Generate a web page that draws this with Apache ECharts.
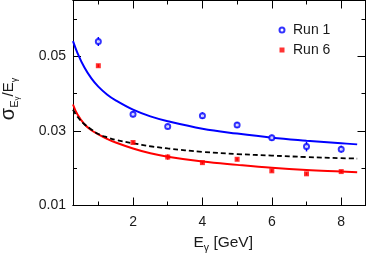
<!DOCTYPE html>
<html><head><meta charset="utf-8">
<script src="https://cdn.jsdelivr.net/npm/echarts@6/dist/echarts.min.js"></script>
<style>html,body{margin:0;padding:0;background:#fff}#c{width:367px;height:256px}</style>
</head><body><div id="c"></div>
<script>
// ---- data ----
const energies = [1, 2, 3, 4, 5, 6, 7, 8];
const run1 = [0.0540, 0.0345, 0.0312, 0.0341, 0.0316, 0.0282, 0.0258, 0.0251];
const run1Err = [0.0012, 0.0008, 0.0007, 0.0009, 0.0008, 0.0008, 0.0013, 0.0009];
const run6 = [0.0475, 0.0269, 0.0230, 0.0215, 0.0224, 0.0193, 0.0185, 0.0191];
const run6Err = [0.0004, 0.0004, 0.0007, 0.0004, 0.0004, 0.0004, 0.0004, 0.0004];

const fitE      = [0.27, 0.4, 0.6, 0.8, 1, 1.25, 1.5, 2, 2.5, 3, 4, 5, 6, 7, 8, 8.46];
const fitRun1   = [0.0541, 0.0509, 0.0470, 0.0441, 0.0419, 0.0398, 0.0382, 0.0357, 0.0339, 0.0326, 0.0306, 0.0293, 0.0282, 0.0274, 0.0267, 0.0264];
const fitRun6   = [0.0371, 0.0344, 0.0318, 0.0302, 0.0291, 0.0279, 0.0269, 0.0253, 0.0240, 0.0231, 0.0218, 0.0209, 0.0201, 0.0195, 0.0191, 0.0189];
const fitDashed = [0.0357, 0.0338, 0.0318, 0.0304, 0.0292, 0.0283, 0.0276, 0.0267, 0.0259, 0.0253, 0.0244, 0.0238, 0.0234, 0.0230, 0.0227, 0.0226];

const xLabels = ['2', '4', '6', '8'];
const yLabels = ['0.01', '0.03', '0.05'];
const seriesNames = ['Run 1', 'Run 6'];

// ---- chart ----
const FONT = '"Liberation Sans", Arial, Helvetica, sans-serif';
const TXT = '#1a1a1a';
const XMIN = 0.27, XMAX = 8.7, YMIN = 0.01, YMAX = 0.065;
const zip = (a, b) => a.map((v, i) => [v, b[i]]);

function xAxisDef(pos, splitNumber, len, showLabel, withName) {
  const ax = {
    type: 'value', position: pos, min: XMIN, max: XMAX, splitNumber: splitNumber,
    axisLine: { show: true, onZero: false, lineStyle: { color: '#000', width: 1 } },
    axisTick: { show: true, inside: true, length: len, lineStyle: { color: '#000', width: 1 } },
    splitLine: { show: false },
    axisLabel: {
      show: showLabel, margin: 10, fontSize: 14, color: TXT, fontFamily: FONT,
      formatter: v => { const s = String(Math.round(v)); return (Math.abs(v - Math.round(v)) < 1e-6 && xLabels.includes(s)) ? s : ''; }
    }
  };
  if (withName) {
    ax.name = '{e|E}{g|γ}{t| [GeV]}';
    ax.nameLocation = 'middle';
    ax.nameGap = 28;
    ax.nameTextStyle = {
      fontFamily: FONT, color: TXT, padding: [0, 0, 0, 8],
      rich: {
        e: { fontSize: 15.5, fontFamily: FONT, color: TXT, verticalAlign: 'bottom', padding: [0, 0, 3, 0] },
        g: { fontSize: 10.5, fontFamily: FONT, color: TXT, verticalAlign: 'bottom' },
        t: { fontSize: 15.5, fontFamily: FONT, color: TXT, verticalAlign: 'bottom', padding: [0, 0, 3, 0] }
      }
    };
  }
  return ax;
}
function yAxisDef(pos, interval, len, showLabel, withName) {
  const ax = {
    type: 'value', position: pos, min: YMIN, max: YMAX, interval: interval,
    axisLine: { show: true, onZero: false, lineStyle: { color: '#000', width: 1 } },
    axisTick: { show: true, inside: true, length: len, lineStyle: { color: '#000', width: 1 } },
    splitLine: { show: false },
    axisLabel: {
      show: showLabel, margin: 7, fontSize: 14, color: TXT, fontFamily: FONT,
      formatter: v => { const s = v.toFixed(2); return (Math.abs(v - parseFloat(s)) < 1e-6 && yLabels.includes(s)) ? s : ''; }
    }
  };
  if (withName) {
    ax.name = '{s|σ}{e|E}{g|γ}{n|/E}{g2|γ}';
    ax.nameLocation = 'middle';
    ax.nameGap = 52;
    ax.nameRotate = 90;
    ax.nameTextStyle = {
      fontFamily: FONT, color: TXT, padding: [0, 0, 0, 8],
      rich: {
        s: { fontSize: 20, fontFamily: FONT, color: TXT, verticalAlign: 'bottom', padding: [0, 0, 3, 0] },
        e: { fontSize: 11, fontFamily: FONT, color: TXT, verticalAlign: 'bottom', padding: [0, 0, 1, 0] },
        g: { fontSize: 8, fontFamily: FONT, color: TXT, verticalAlign: 'bottom' },
        n: { fontSize: 15, fontFamily: FONT, color: TXT, verticalAlign: 'bottom', padding: [0, 0, 5, 0] },
        g2: { fontSize: 9, fontFamily: FONT, color: TXT, verticalAlign: 'bottom', padding: [0, 0, 2, 0] }
      }
    };
  }
  return ax;
}

function errorBars(name, color, ys, errs) {
  return {
    type: 'custom', name: name + ' err', xAxisIndex: 0, yAxisIndex: 0, silent: true, z: 3,
    data: energies.map((e, i) => [e, ys[i] - errs[i], ys[i] + errs[i]]),
    renderItem: (params, api) => {
      const lo = api.coord([api.value(0), api.value(1)]);
      const hi = api.coord([api.value(0), api.value(2)]);
      return { type: 'line', shape: { x1: lo[0], y1: lo[1], x2: hi[0], y2: hi[1] }, style: { stroke: color, lineWidth: 1.5 } };
    }
  };
}

const chart = echarts.init(document.getElementById('c'), null, { renderer: 'canvas' });
chart.setOption({
  animation: false,
  backgroundColor: '#fff',
  grid: { left: 73, right: 1.5, top: 0.5, bottom: 50.5, containLabel: false, outerBoundsMode: 'none' },
  xAxis: [
    xAxisDef('bottom', 5, 8, true, true),
    xAxisDef('bottom', 8, 4, false, false),
    xAxisDef('top', 5, 8, false, false),
    xAxisDef('top', 8, 4, false, false)
  ],
  yAxis: [
    yAxisDef('left', 0.02, 8, true, true),
    yAxisDef('left', 0.01, 4, false, false),
    yAxisDef('right', 0.02, 8, false, false),
    yAxisDef('right', 0.01, 4, false, false)
  ],
  legend: {
    orient: 'vertical', left: 273.5, top: 18, padding: 5, itemWidth: 5, itemHeight: 5, itemGap: 6,
    textStyle: { fontSize: 14, fontFamily: FONT, color: TXT, padding: [0, 0, 0, 3.5] },
    data: seriesNames
  },
  series: [
    { type: 'line', name: 'fit1', data: zip(fitE, fitRun1), smooth: 0.4, symbol: 'none',
      lineStyle: { color: '#0000ff', width: 2 }, z: 2 },
    { type: 'line', name: 'fit6', data: zip(fitE, fitRun6), smooth: 0.4, symbol: 'none',
      lineStyle: { color: '#ff0000', width: 2 }, z: 2 },
    { type: 'line', name: 'ref', data: zip(fitE, fitDashed), smooth: 0.4, symbol: 'none',
      lineStyle: { color: '#000', width: 1.8, type: [5, 3] }, z: 2 },
    errorBars('Run 1', '#0000ff', run1, run1Err),
    errorBars('Run 6', '#ff0000', run6, run6Err),
    { type: 'scatter', name: seriesNames[0], data: zip(energies, run1), symbol: 'emptyCircle', symbolSize: 5,
      itemStyle: { color: '#0000ff', borderColor: '#0000ff', borderWidth: 1.6 }, z: 4 },
    { type: 'scatter', name: seriesNames[1], data: zip(energies, run6), symbol: 'rect', symbolSize: 5,
      itemStyle: { color: '#ff0000' }, z: 4 }
  ]
});
</script>
</body></html>
